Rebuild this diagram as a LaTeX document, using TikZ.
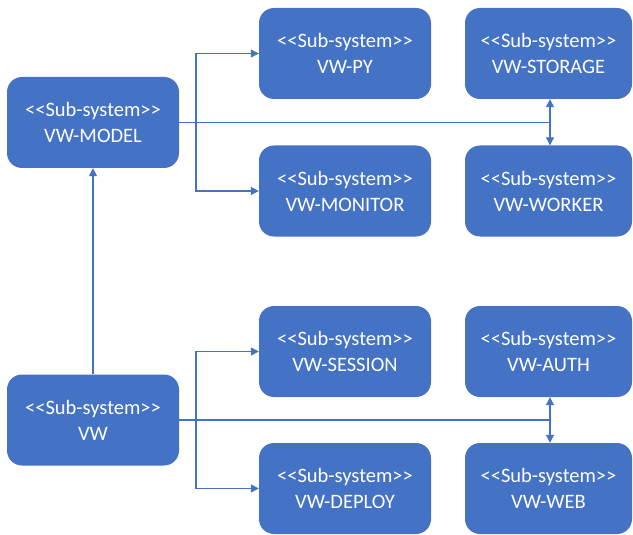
\documentclass[tikz,border=0pt]{standalone}
\usepackage{fontspec}
\setmainfont{Carlito}[Ligatures=TeXOff]
\usetikzlibrary{arrows.meta}
\definecolor{officeblue}{HTML}{4472C4}
\tikzset{
  subsys/.style={fill=officeblue, draw=none, rounded corners=15pt, text=white,
    font=\fontsize{20.5}{26}\selectfont, align=center},
  link/.style={draw=officeblue, line width=1.2pt},
  tip/.style={-{Triangle[length=8pt,width=8pt]}},
  tips/.style={{Triangle[length=8pt,width=8pt]}-{Triangle[length=8pt,width=8pt]}}
}
\begin{document}
\begin{tikzpicture}[x=1pt,y=-1pt]
\useasboundingbox (0,0) rectangle (633,535);
\node[subsys, minimum width=172pt, minimum height=91pt] (model) at (93,122.5) {<<Sub-system>>\\VW-MODEL};
\node[subsys, minimum width=172pt, minimum height=91pt] (py) at (345,53.5) {<<Sub-system>>\\VW-PY};
\node[subsys, minimum width=167pt, minimum height=91pt] (storage) at (548.5,53.5) {<<Sub-system>>\\VW-STORAGE};
\node[subsys, minimum width=172pt, minimum height=91pt] (monitor) at (345,191) {<<Sub-system>>\\VW-MONITOR};
\node[subsys, minimum width=167pt, minimum height=91pt] (worker) at (548.5,191) {<<Sub-system>>\\VW-WORKER};
\node[subsys, minimum width=172pt, minimum height=91pt] (session) at (345,351.5) {<<Sub-system>>\\VW-SESSION};
\node[subsys, minimum width=167pt, minimum height=91pt] (auth) at (548.5,351.5) {<<Sub-system>>\\VW-AUTH};
\node[subsys, minimum width=172pt, minimum height=91pt] (vw) at (93,420) {<<Sub-system>>\\VW};
\node[subsys, minimum width=172pt, minimum height=91pt] (deploy) at (345,488.5) {<<Sub-system>>\\VW-DEPLOY};
\node[subsys, minimum width=167pt, minimum height=91pt] (web) at (548.5,488.5) {<<Sub-system>>\\VW-WEB};
% top group
\coordinate (mj) at (196,122.5);
\coordinate (mr) at (550,122.5);
\draw[link] (model.east) -- (mr);
\draw[link, tip] (mj) |- (py.west);
\draw[link, tip] (mj) |- (monitor.west);
\draw[link, tips] (storage.south -| mr) -- (worker.north -| mr);
% bottom group
\coordinate (vj) at (196,420);
\coordinate (vr) at (550,420);
\draw[link] (vw.east) -- (vr);
\draw[link, tip] (vj) |- (session.west);
\draw[link, tip] (vj) |- (deploy.west);
\draw[link, tips] (auth.south -| vr) -- (web.north -| vr);
% vw to model
\draw[link, tip] (vw.north) -- (model.south);
\end{tikzpicture}
\end{document}
